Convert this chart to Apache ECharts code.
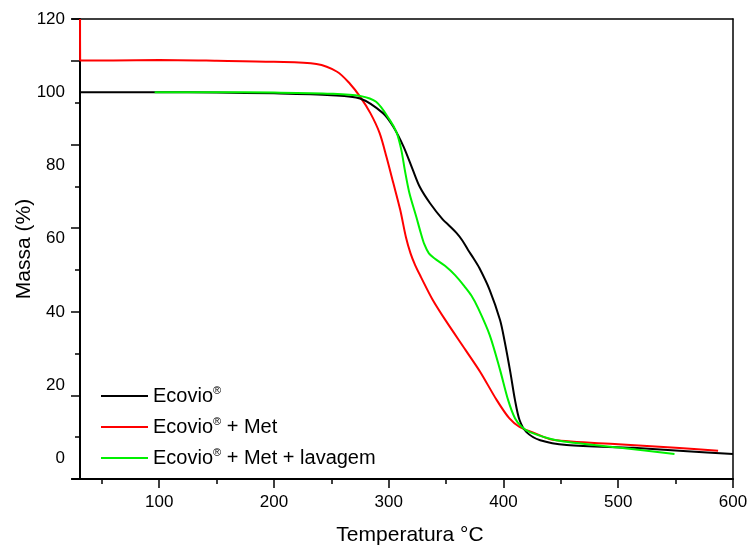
<!DOCTYPE html>
<html>
<head>
<meta charset="utf-8">
<script src="https://cdn.jsdelivr.net/npm/echarts@6/dist/echarts.min.js"></script>
<style>
html,body{margin:0;padding:0;background:#fff;}
#c{width:750px;height:547px;}
</style>
</head>
<body>
<div id="c"></div>
<script>
// ---- data ----
var seriesNames = ['Ecovio®', 'Ecovio® + Met', 'Ecovio® + Met + lavagem'];

var tempEcovio = [31, 60, 100, 150, 200, 250, 275, 295, 304, 313, 321, 327, 336, 347, 353, 359, 364, 369, 374, 379, 388, 397, 401, 406, 410, 414, 420, 432, 455, 513, 560, 600];
var massEcovio = [100.0, 100.0, 100.0, 99.9, 99.7, 99.2, 98.3, 94.3, 90.6, 85.1, 78.8, 74.2, 69.7, 65.3, 63.5, 61.6, 59.6, 57.0, 54.6, 52.0, 46.0, 37.8, 32.0, 23.5, 16.0, 10.5, 7.2, 5.0, 3.7, 2.9, 2.0, 1.2];

var tempMet = [31, 31.1, 60, 100, 150, 200, 237, 255, 266, 275, 284, 292, 298, 304, 310, 315, 319, 323, 328, 338, 350, 367, 380, 394, 405, 414, 425, 443, 500, 550, 587];
var massMet = [120, 108.7, 108.7, 108.8, 108.6, 108.3, 107.7, 105.6, 102.4, 98.8, 94.3, 88.9, 82.4, 75.2, 67.9, 60.4, 56.0, 52.8, 49.6, 43.5, 37.5, 29.6, 23.5, 16.0, 11.0, 8.6, 7.2, 5.1, 3.9, 2.9, 2.1];

var tempLav = [96, 150, 200, 250, 275, 289, 301, 307, 311, 314, 318, 324, 328, 331, 335, 340, 349, 358, 366, 372, 378, 388, 397, 404, 410, 416, 423, 446, 500, 549];
var massLav = [100.0, 100.0, 99.9, 99.6, 99.0, 97.4, 92.4, 88.9, 84.2, 78.8, 72.5, 66.0, 61.5, 58.5, 56.0, 54.6, 52.6, 50.0, 47.0, 44.5, 41.0, 33.7, 24.2, 16.0, 11.0, 8.6, 7.2, 5.0, 3.0, 1.2];

var xLabelValues = [100, 200, 300, 400, 500, 600];
var xMinorValues = [50, 150, 250, 350, 450, 550];
var yLabelValues = [0, 20, 40, 60, 80, 100, 120];

function pairs(xs, ys) { return xs.map(function (x, i) { return [x, ys[i]]; }); }

var chart = echarts.init(document.getElementById('c'), null, { renderer: 'canvas' });
var FONT = '"Liberation Sans", Arial, sans-serif';

var lineBase = { type: 'line', showSymbol: false, symbol: 'none', smooth: 0.3, xAxisIndex: 0, yAxisIndex: 0 };

chart.setOption({
  animation: false,
  backgroundColor: '#fff',
  grid: { left: 72, right: 17, top: 19, bottom: 68, containLabel: false, outerBoundsMode: 'none' },
  legend: {
    orient: 'vertical', left: 96, top: 380, itemWidth: 47, itemHeight: 2, itemGap: 9,
    icon: 'rect',
    data: seriesNames,
    formatter: function (n) { return n.replace('®', '{s|®}'); },
    textStyle: {
      fontFamily: FONT, fontSize: 20, color: '#000', lineHeight: 22,
      rich: { s: { fontFamily: FONT, fontSize: 11, verticalAlign: 'top', lineHeight: 22, padding: [0, 0, 9, 0] } }
    }
  },
  xAxis: [
    {
      type: 'value', position: 'bottom', min: 24, max: 600,
      name: 'Temperatura °C', nameLocation: 'middle', nameGap: 46, nameMoveOverlap: false,
      nameTextStyle: { fontFamily: FONT, fontSize: 21, color: '#000', padding: [0, 0, 0, 15] },
      axisLine: { show: true, onZero: false, lineStyle: { color: '#000', width: 2 } },
      axisTick: { show: true, inside: false, length: 9, customValues: xLabelValues, lineStyle: { color: '#000', width: 1.5 } },
      axisLabel: { customValues: xLabelValues, margin: 15, fontFamily: FONT, fontSize: 17, color: '#000' },
      splitLine: { show: false }
    },
    {
      type: 'value', position: 'top', min: 24, max: 600,
      axisLine: { show: true, onZero: false, lineStyle: { color: '#000', width: 1.5 } },
      axisTick: { show: false }, axisLabel: { show: false }, splitLine: { show: false }
    },
    {
      type: 'value', position: 'bottom', min: 24, max: 600,
      axisLine: { show: false, onZero: false },
      axisTick: { show: true, length: 5, customValues: xMinorValues, lineStyle: { color: '#000', width: 1.5 } },
      axisLabel: { show: false }, splitLine: { show: false }
    }
  ],
  yAxis: [
    {
      type: 'value', position: 'left', offset: -8, min: -5.6, max: 120,
      name: 'Massa (%)', nameLocation: 'middle', nameGap: 45, nameRotate: 90, nameMoveOverlap: false,
      nameTextStyle: { fontFamily: FONT, fontSize: 21, color: '#000' },
      axisLine: { show: false, onZero: false },
      axisTick: { show: false },
      axisLabel: { customValues: yLabelValues, margin: 15, fontFamily: FONT, fontSize: 17, color: '#000' },
      splitLine: { show: false }
    },
    {
      type: 'value', position: 'left', offset: -8, min: 0, max: 110, interval: 20,
      axisLine: { show: true, onZero: false, lineStyle: { color: '#000', width: 2 } },
      axisTick: { show: true, inside: false, length: 9, lineStyle: { color: '#000', width: 1.5 } },
      minorTick: { show: true, splitNumber: 2, length: 5, lineStyle: { color: '#000', width: 1.5 } },
      axisLabel: { show: false }, splitLine: { show: false }
    },
    {
      type: 'value', position: 'right', min: 0, max: 110,
      axisLine: { show: true, onZero: false, lineStyle: { color: '#000', width: 1.5 } },
      axisTick: { show: false }, axisLabel: { show: false }, splitLine: { show: false }
    }
  ],
  series: [
    Object.assign({}, lineBase, { name: seriesNames[0], data: pairs(tempEcovio, massEcovio), lineStyle: { color: '#000000', width: 2 }, itemStyle: { color: '#000000' }, z: 3 }),
    Object.assign({}, lineBase, { name: seriesNames[1], data: pairs(tempMet, massMet), lineStyle: { color: '#ff0000', width: 2 }, itemStyle: { color: '#ff0000' }, z: 2 }),
    Object.assign({}, lineBase, { name: seriesNames[2], data: pairs(tempLav, massLav), lineStyle: { color: '#00f000', width: 2 }, itemStyle: { color: '#00f000' }, z: 4 })
  ]
});
</script>
</body>
</html>
